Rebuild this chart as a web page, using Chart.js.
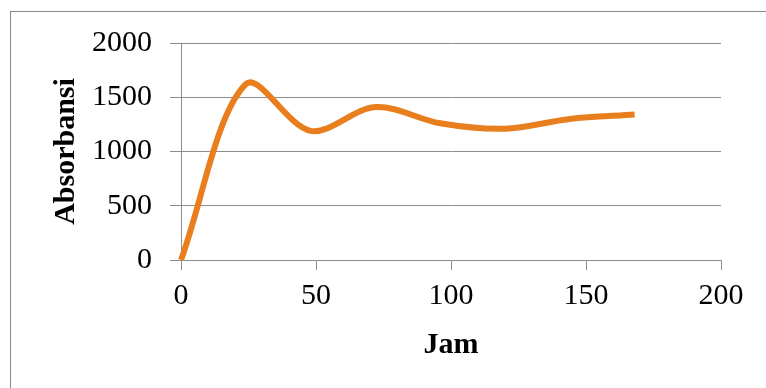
<!DOCTYPE html>
<html>
<head>
<meta charset="utf-8">
<script src="https://cdn.jsdelivr.net/npm/chart.js@4.4.1/dist/chart.umd.min.js"></script>
<style>
    html, body { margin: 0; padding: 0; background: #fff; }
    #wrap { position: relative; width: 766px; height: 388px; overflow: hidden; }
    #frame {
        position: absolute; left: 10px; top: 11px; right: -2px; bottom: -2px;
        border-left: 1px solid #8a8a8a; border-top: 1px solid #8a8a8a;
    }
    #absChart { position: absolute; left: 0; top: 0; }
</style>
</head>
<body>
<div id="wrap">
    <div id="frame"></div>
    <canvas id="absChart" width="766" height="388"></canvas>
</div>
<script>
// Absorbansi vs Jam
const jamValues = [0, 24, 48, 72, 96, 120, 144, 168];
const absorbansiValues = [0, 1620, 1190, 1410, 1260, 1210, 1300, 1340];
const xTicks = [0, 50, 100, 150, 200];
const yTicks = [0, 500, 1000, 1500, 2000];

const chartFont = 'Liberation Serif, Times New Roman, serif';
const gridGray = '#8c8c8c';

const points = jamValues.map((x, i) => ({ x: x, y: absorbansiValues[i] }));

const ctx = document.getElementById('absChart').getContext('2d');
new Chart(ctx, {
    type: 'line',
    data: {
        datasets: [{
            label: 'Absorbansi',
            data: points,
            borderColor: 'rgb(232, 126, 30)',
            borderWidth: 6,
            pointRadius: 0,
            fill: false,
            tension: 0.33,
            clip: false
        }]
    },
    options: {
        responsive: false,
        animation: false,
        layout: { padding: { left: 48, top: 43, right: 45, bottom: 25 } },
        plugins: {
            legend: { display: false },
            tooltip: { enabled: false }
        },
        scales: {
            x: {
                type: 'linear',
                min: 0,
                max: 200,
                afterBuildTicks: s => { s.ticks = xTicks.map(v => ({ value: v })); },
                afterFit: s => { s.height = 388 - 260 - 25; },
                grid: { drawOnChartArea: false, drawTicks: true, tickLength: 10, color: gridGray, tickColor: gridGray },
                border: { display: false },
                ticks: { color: '#000', padding: 8, maxRotation: 0, callback: v => String(v), font: { family: chartFont, size: 30 } },
                title: { display: true, text: 'Jam', color: '#000', padding: 0, font: { family: chartFont, size: 30, weight: 'bold' } }
            },
            y: {
                min: 0,
                max: 2000,
                afterBuildTicks: s => { s.ticks = yTicks.map(v => ({ value: v })); },
                afterFit: s => { s.width = 181 - 48; },
                grid: { drawTicks: true, tickLength: 11, color: gridGray, tickColor: gridGray, lineWidth: 1 },
                border: { display: true, color: gridGray, width: 1 },
                ticks: { color: '#000', padding: 18, callback: v => String(v), font: { family: chartFont, size: 30 } },
                title: { display: true, text: 'Absorbansi', color: '#000', padding: 0, font: { family: chartFont, size: 30, weight: 'bold' } }
            }
        }
    }
});
</script>
</body>
</html>
